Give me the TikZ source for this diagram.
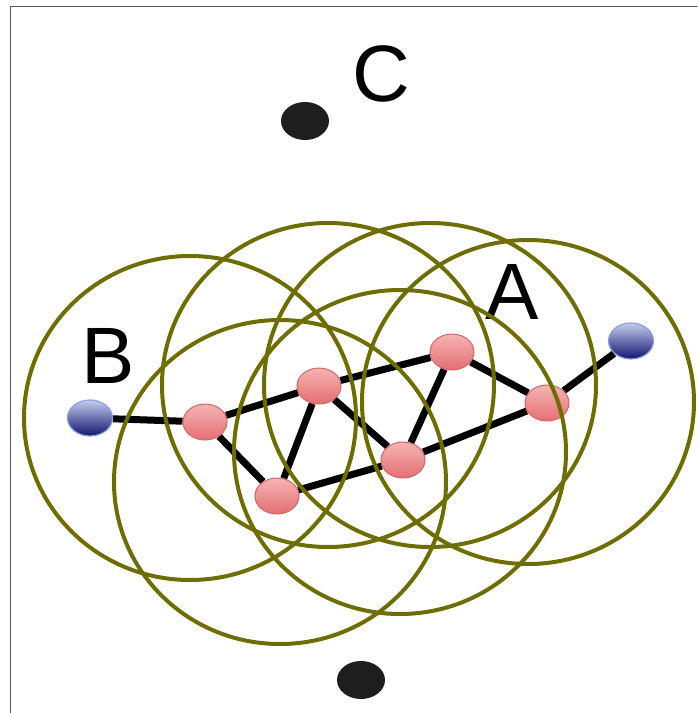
\documentclass[tikz,border=0pt]{standalone}
\usepackage{fontspec}
\setmainfont{Liberation Sans}
\usetikzlibrary{shapes.geometric,backgrounds}
\definecolor{ring}{RGB}{110,110,0}
\definecolor{redtop}{RGB}{246,180,180}
\definecolor{redbot}{RGB}{228,110,114}
\definecolor{redline}{RGB}{212,100,100}
\definecolor{bluetop}{RGB}{195,205,238}
\definecolor{bluebot}{RGB}{20,20,110}
\definecolor{blueline}{RGB}{140,160,225}
\definecolor{dotcol}{RGB}{30,30,30}
\definecolor{framecol}{RGB}{90,90,90}
\tikzset{
  rednode/.style={ellipse, inner sep=0pt, minimum width=44pt, minimum height=36pt,
    top color=redtop, bottom color=redbot, draw=redline, line width=1pt},
  bluenode/.style={ellipse, inner sep=0pt, minimum width=45pt, minimum height=36pt,
    top color=bluetop, bottom color=bluebot, draw=blueline, line width=1.2pt},
  blackdot/.style={ellipse, inner sep=0pt, minimum width=48pt, minimum height=38pt,
    fill=dotcol},
  link/.style={line width=7pt, black},
  ringline/.style={draw=ring, line width=4pt},
  letter/.style={inner sep=0pt, anchor=base, font=\fontsize{80}{96}\selectfont}
}
\begin{document}
\begin{tikzpicture}[x=1pt,y=-1pt]
\useasboundingbox (0,0) rectangle (697,713);

% nodes
\node[bluenode] (bl) at (90,418) {};
\node[bluenode] (br) at (631,341) {};
\node[rednode] (n1) at (205,422) {};
\node[rednode] (n2) at (319,386) {};
\node[rednode] (n3) at (452,352) {};
\node[rednode] (n4) at (547,403) {};
\node[rednode] (n5) at (403,460) {};
\node[rednode] (n6) at (277,496) {};
\node[blackdot] (c) at (305,121) {};
\node[blackdot] (d) at (361,680) {};

% labels
\node[letter] (lc) at (381,101) {C};
\node[letter] (lb) at (108,383) {B};
\node[letter] (la) at (512,319) {A};

% background and links
\begin{pgfonlayer}{background}
\fill[white] (0,0) rectangle (697,713);
\draw[framecol, line width=1pt] (10,713) -- (10,6) -- (697,6);
\draw[link] (bl) -- (n1);
\draw[link] (n1) -- (n2);
\draw[link] (n2) -- (n3);
\draw[link] (n3) -- (n4);
\draw[link] (n4) -- (br);
\draw[link] (n1) -- (n6);
\draw[link] (n6) -- (n2);
\draw[link] (n2) -- (n5);
\draw[link] (n5) -- (n3);
\draw[link] (n6) -- (n5);
\draw[link] (n5) -- (n4);
\end{pgfonlayer}

% range rings
\draw[ringline] (190,418) ellipse [x radius=166pt, y radius=162pt];
\draw[ringline] (328,385) ellipse [x radius=166pt, y radius=162pt];
\draw[ringline] (430,385) ellipse [x radius=166pt, y radius=162pt];
\draw[ringline] (528,402) ellipse [x radius=166pt, y radius=162pt];
\draw[ringline] (280,482) ellipse [x radius=166pt, y radius=162pt];
\draw[ringline] (400,452) ellipse [x radius=166pt, y radius=162pt];
\end{tikzpicture}
\end{document}
